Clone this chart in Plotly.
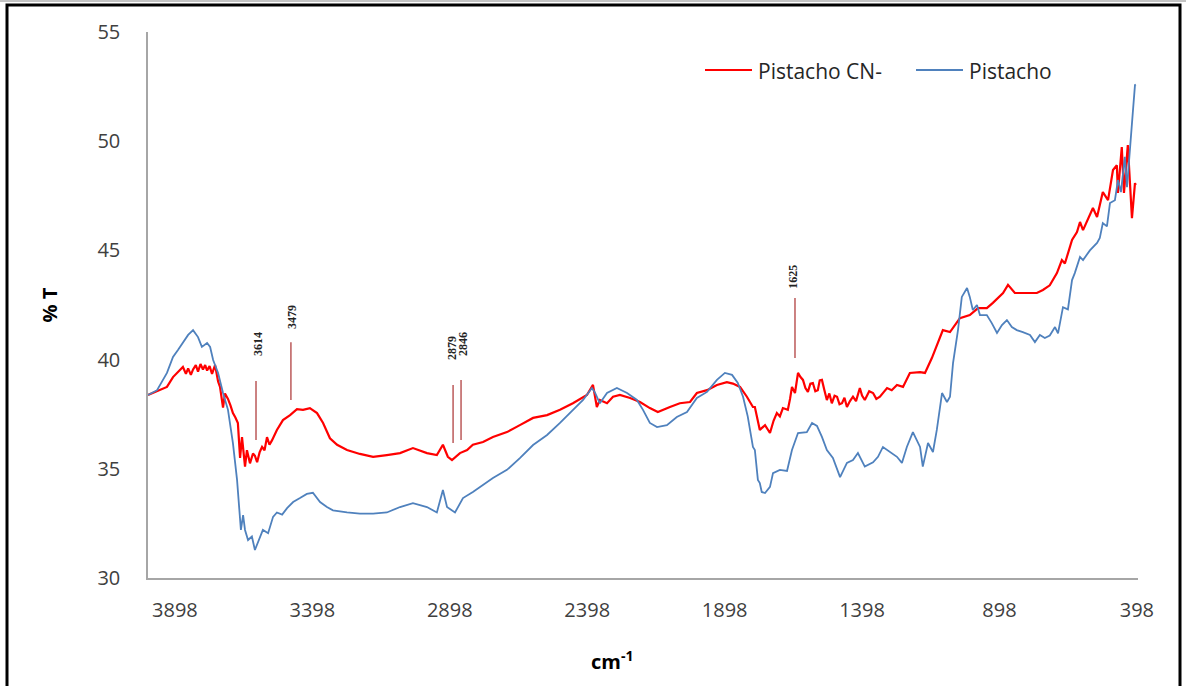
import plotly.graph_objects as go

# ---------------- data ----------------
cn_wn = [3996, 3963, 3927, 3905, 3887, 3869, 3858, 3850, 3840, 3832, 3822, 3814, 3805, 3796, 3788,
         3781, 3772, 3763, 3752, 3741, 3734, 3728, 3723, 3716, 3705, 3696, 3687, 3678, 3669, 3665,
         3661, 3654, 3648, 3643, 3636, 3630, 3625, 3614, 3607, 3599, 3590, 3581, 3572, 3563, 3554,
         3545, 3527, 3505, 3479, 3454, 3432, 3407, 3381, 3359, 3334, 3308, 3272, 3225, 3177, 3127,
         3079, 3032, 2981, 2945, 2923, 2905, 2890, 2861, 2835, 2814, 2777, 2741, 2690, 2643,
         2595, 2544, 2497, 2450, 2399, 2377, 2363, 2352, 2326, 2304, 2279, 2242, 2206, 2170,
         2141, 2097, 2061, 2024, 1999, 1962, 1926, 1890, 1868, 1842, 1817, 1795, 1788, 1770,
         1751, 1733, 1720, 1708, 1697, 1686, 1668, 1660, 1653, 1642, 1631, 1622, 1613, 1604, 1595,
         1586, 1577, 1568, 1559, 1552, 1544, 1535, 1526, 1517, 1508, 1498, 1489, 1480, 1471, 1462,
         1453, 1442, 1431, 1420, 1406, 1398, 1388, 1372, 1358, 1346, 1333, 1320, 1307, 1290, 1271,
         1249, 1224, 1187, 1169, 1144, 1126, 1104, 1078, 1042, 1006, 976, 944, 922, 885, 867, 842,
         798, 762, 740, 715, 689, 671, 660, 634, 616, 605, 594, 576, 558, 543, 522, 503, 485, 471,
         467, 453, 445, 431, 416, 405, 402]
cn_t = [38.38, 38.55, 38.75, 39.2, 39.45, 39.66, 39.35, 39.6, 39.3, 39.55, 39.75, 39.45, 39.8, 39.55, 39.75,
        39.5, 39.7, 39.35, 39.75, 39.0, 38.75, 38.3, 37.8, 38.45, 38.2, 37.9, 37.55, 37.35, 37.1, 36.3,
        35.5, 36.45, 35.7, 35.1, 35.85, 35.5, 35.25, 35.7, 35.6, 35.3, 35.75, 36.0, 35.85, 36.45, 36.1,
        36.3, 36.78, 37.23, 37.46, 37.73, 37.7, 37.78, 37.55, 37.1, 36.4, 36.1, 35.86, 35.68, 35.55, 35.63,
        35.72, 35.95, 35.72, 35.63, 36.1, 35.55, 35.4, 35.72, 35.86, 36.1, 36.23, 36.46, 36.68, 37.0,
        37.33, 37.46, 37.7, 38.0, 38.38, 38.84, 37.83, 38.15, 38.0, 38.3, 38.38, 38.24, 38.06, 37.78,
        37.6, 37.83, 38.0, 38.06, 38.47, 38.6, 38.84, 38.97, 38.9, 38.75, 38.3, 37.83, 37.83, 36.78,
        37.0, 36.64, 37.2, 37.55, 37.4, 37.78, 37.7, 38.2, 38.75, 38.47, 39.39, 39.2, 39.07, 38.7, 38.52,
        38.9, 38.93, 38.55, 38.6, 39.05, 39.07, 38.6, 38.15, 38.45, 38.0, 38.35, 38.3, 37.95, 38.0, 38.25,
        37.83, 38.1, 38.3, 38.1, 38.7, 38.35, 38.15, 38.55, 38.47, 38.2, 38.3, 38.5, 38.7, 38.6, 38.84,
        38.75, 39.39, 39.43, 39.39, 40.07, 40.67, 41.35, 41.26, 41.9, 42.04, 42.36, 42.36, 42.6, 43.05, 43.42, 43.05,
        43.05, 43.05, 43.19, 43.4, 43.96, 44.56, 44.4, 45.48, 45.84, 46.3, 45.93, 46.48, 46.94, 46.53, 47.67, 47.3, 48.68, 48.9,
        47.63, 49.73, 47.63, 49.82, 46.48, 48.08, 48.0]

p_wn = [3996, 3963, 3927, 3905, 3887, 3869, 3850, 3832, 3814, 3800, 3781, 3770, 3759, 3741,
        3723, 3705, 3687, 3672, 3665, 3658, 3650, 3643, 3632, 3618, 3607, 3596, 3578, 3559,
        3541, 3527, 3508, 3490, 3468, 3443, 3418, 3396, 3370, 3345, 3323, 3272, 3225, 3177,
        3127, 3079, 3032, 2981, 2945, 2923, 2908, 2879, 2850, 2814, 2777, 2741, 2690, 2643,
        2595, 2544, 2497, 2450, 2413, 2381, 2370, 2352, 2326, 2290, 2253, 2217, 2195, 2170,
        2144, 2108, 2072, 2035, 1999, 1962, 1926, 1897, 1871, 1850, 1831, 1814, 1795, 1788,
        1777, 1770, 1763, 1751, 1733, 1722, 1697, 1671, 1653, 1631, 1599, 1580, 1562, 1544,
        1526, 1504, 1478, 1453, 1431, 1413, 1388, 1358, 1340, 1322, 1297, 1271, 1253, 1235,
        1213, 1187, 1177, 1158, 1140, 1126, 1107, 1089, 1078, 1067, 1049, 1035, 1016, 1006,
        995, 980, 969, 944, 926, 907, 889, 871, 853, 835, 813, 787, 769, 751, 733, 715, 696,
        685, 667, 649, 634, 624, 605, 594, 569, 543, 533, 522, 507, 496, 478, 467, 456, 442,
        434, 423, 413, 405, 402]
p_t = [38.38, 38.6, 39.39, 40.12, 40.44, 40.8, 41.13, 41.35, 41.03, 40.58, 40.76, 40.58, 39.98, 39.39,
       38.47, 37.7, 36.18, 34.49, 33.43, 32.2, 32.88, 32.2, 31.74, 31.9, 31.28, 31.6, 32.2, 32.05,
       32.8, 33.0, 32.9, 33.2, 33.48, 33.66, 33.85, 33.9, 33.48, 33.25, 33.1, 33.0, 32.95, 32.95,
       33.0, 33.25, 33.43, 33.25, 33.0, 34.03, 33.25, 33.0, 33.66, 33.94, 34.26, 34.58, 34.95, 35.49,
       36.09, 36.55, 37.1, 37.7, 38.15, 38.7, 38.5, 38.0, 38.47, 38.7, 38.47, 38.15, 37.7, 37.1,
       36.91, 37.0, 37.37, 37.6, 38.24, 38.52, 39.07, 39.39, 39.3, 38.93, 38.3, 37.4, 36.0, 35.86,
       34.49, 34.35, 33.94, 33.89, 34.17, 34.8, 34.95, 34.9, 35.86, 36.64, 36.68, 37.1, 36.96, 36.46,
       35.86, 35.5, 34.62, 35.27, 35.4, 35.72, 35.1, 35.3, 35.55, 36.0, 35.77, 35.55, 35.27, 36.0,
       36.68, 36.0, 35.1, 36.18, 35.77, 36.78, 38.47, 38.06, 38.3, 39.84, 41.35, 42.87, 43.28, 42.87,
       42.27, 42.5, 42.04, 42.04, 41.67, 41.22, 41.58, 41.81, 41.49, 41.35, 41.26, 41.13, 40.8, 41.13, 40.99, 41.1, 41.49,
       41.2, 42.4, 42.3, 43.64, 43.96, 44.7, 44.56, 45.0, 45.34, 45.57, 46.25, 46.1, 47.17, 47.3, 48.22, 47.67, 49.28,
       47.9, 49.92, 51.3, 52.57, 52.6]

x_ticks = [3898, 3398, 2898, 2398, 1898, 1398, 898, 398]
y_ticks = [30, 35, 40, 45, 50, 55]

peak_labels = ["3614", "3479", "2879", "2846", "1625"]
peak_line_x = [3603, 3476, 2886, 2857, 1642]
peak_line_y0 = [36.32, 38.15, 36.18, 36.32, 40.07]
peak_line_y1 = [39.02, 40.8, 38.84, 39.07, 42.82]
peak_text_x = [3596, 3472, 2890, 2850, 1650]
peak_text_y = [40.71, 41.95, 40.53, 40.71, 43.78]

series_names = ["Pistacho CN-", "Pistacho"]
series_colors = ["#FF0000", "#4F81BD"]

# ---------------- figure ----------------
PL, PR, PT, PB = 148, 1138, 32, 578   # plot area in pixels
W = PR - PL
H = PB - PT


def px(x):
    return (x - PL) / W


def py(y):
    return (PB - y) / H


fig = go.Figure()
fig.add_trace(go.Scatter(x=cn_wn, y=cn_t, mode="lines", name=series_names[0],
                         line=dict(color=series_colors[0], width=2.2), showlegend=False))
fig.add_trace(go.Scatter(x=p_wn, y=p_t, mode="lines", name=series_names[1],
                         line=dict(color=series_colors[1], width=1.8), showlegend=False))

for lab, lx, ly0, ly1, tx, ty in zip(peak_labels, peak_line_x, peak_line_y0, peak_line_y1,
                                     peak_text_x, peak_text_y):
    fig.add_shape(type="line", xref="x", yref="y", x0=lx, x1=lx, y0=ly0, y1=ly1,
                  line=dict(color="rgba(175,60,60,0.85)", width=1.5))
    fig.add_annotation(x=tx, y=ty, xref="x", yref="y", text="<b>" + lab + "</b>",
                       textangle=-90, showarrow=False,
                       font=dict(family="Liberation Serif", size=12, color="#222222"))

# legend (drawn manually to match the reference placement)
leg_line_x0 = [705, 916]
leg_text_x = [756, 967]
for name, col, lx0, tx in zip(series_names, series_colors, leg_line_x0, leg_text_x):
    fig.add_shape(type="line", xref="paper", yref="paper", x0=px(lx0), x1=px(lx0 + 47),
                  y0=py(70), y1=py(70), line=dict(color=col, width=2))
    fig.add_annotation(xref="paper", yref="paper", x=px(tx), y=py(71), xanchor="left",
                       yanchor="middle", text=name, showarrow=False,
                       font=dict(size=21, color="#262626"))

# x axis title placed as in the reference (left of centre)
fig.add_annotation(xref="paper", yref="paper", x=px(612), y=py(660), xanchor="center",
                   yanchor="middle", text="<b>cm<sup>-1</sup></b>", showarrow=False,
                   font=dict(size=20, color="#000000"))

# frame
fig.add_shape(type="line", xref="paper", yref="paper", x0=px(0), x1=px(1186),
              y0=py(1), y1=py(1), line=dict(color="#888888", width=1))
fig.add_shape(type="rect", xref="paper", yref="paper",
              x0=px(7), x1=px(1180), y0=py(700), y1=py(5),
              line=dict(color="#000000", width=3), fillcolor="rgba(0,0,0,0)")

fig.update_layout(
    width=1186, height=686,
    margin=dict(l=PL, r=1186 - PR, t=PT, b=686 - PB, autoexpand=False),
    paper_bgcolor="white", plot_bgcolor="white",
    font=dict(family="Open Sans", color="#404040", size=20),
    showlegend=False,
    xaxis=dict(range=[3996, 394], tickvals=x_ticks, ticktext=[str(v) for v in x_ticks],
               showgrid=False, zeroline=False, showline=True, linecolor="#A6A6A6", linewidth=1.5,
               ticks="", ticklabelstandoff=13, tickfont=dict(size=20, color="#404040")),
    yaxis=dict(range=[30, 55], tickvals=y_ticks, showgrid=False, zeroline=False, showline=True,
               linecolor="#A6A6A6", linewidth=1.5, ticks="", ticklabelstandoff=22,
               tickfont=dict(size=20, color="#404040"),
               title=dict(text="<b>% T</b>", font=dict(size=20, color="#000000"), standoff=34)),
)

fig.write_html("out.html", config={"displayModeBar": False},
               post_script="document.body.style.margin='0px';")
